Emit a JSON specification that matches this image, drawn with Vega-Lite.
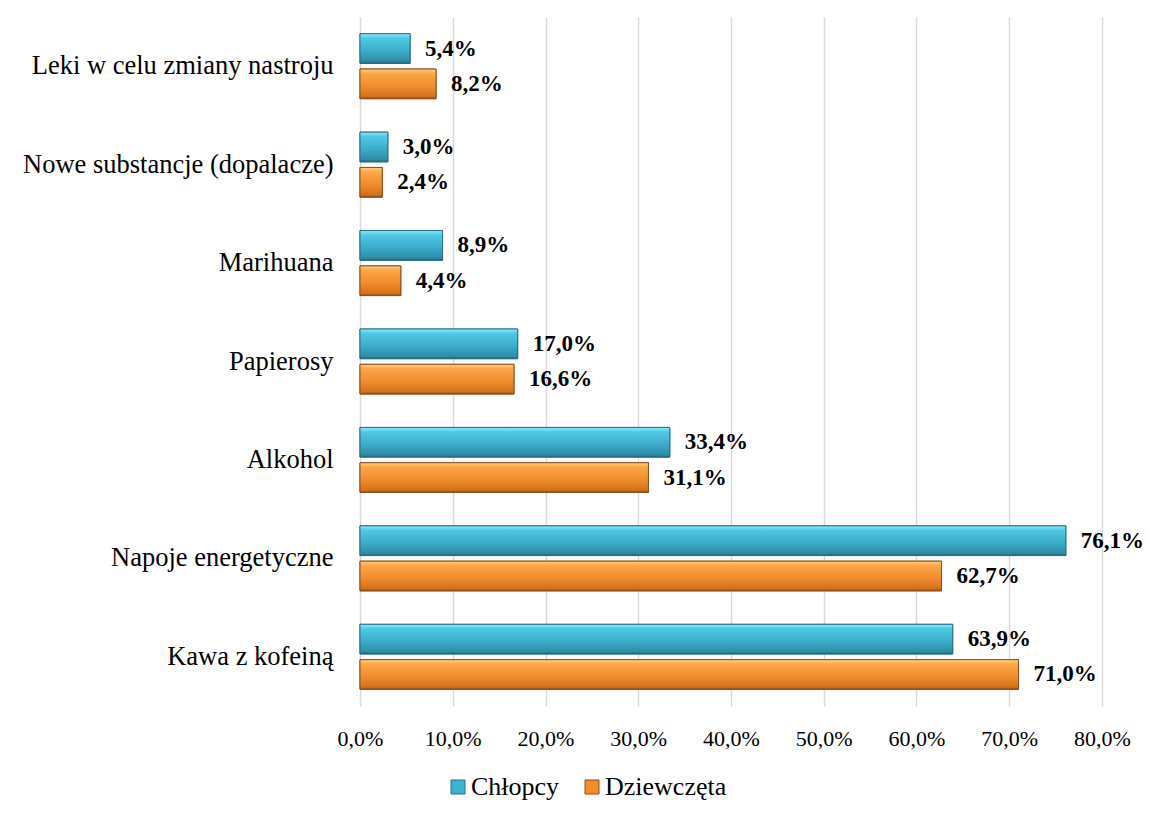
{
  "$schema": "https://vega.github.io/schema/vega-lite/v6.json",
  "autosize": {"type": "none"},
  "padding": {"left": 360, "top": 17, "right": 48, "bottom": 114},
  "width": 742,
  "height": 689,
  "background": "white",
  "config": {
    "view": {"stroke": null},
    "font": "Liberation Serif",
    "locale": {"number": {"decimal": ",", "thousands": " ", "grouping": [3], "currency": ["", " zł"]}}
  },
  "data": {
    "values": [
      {"kat": "Leki w celu zmiany nastroju", "plec": "Chłopcy", "v": 0.054},
      {"kat": "Leki w celu zmiany nastroju", "plec": "Dziewczęta", "v": 0.082},
      {"kat": "Nowe substancje (dopalacze)", "plec": "Chłopcy", "v": 0.030},
      {"kat": "Nowe substancje (dopalacze)", "plec": "Dziewczęta", "v": 0.024},
      {"kat": "Marihuana", "plec": "Chłopcy", "v": 0.089},
      {"kat": "Marihuana", "plec": "Dziewczęta", "v": 0.044},
      {"kat": "Papierosy", "plec": "Chłopcy", "v": 0.170},
      {"kat": "Papierosy", "plec": "Dziewczęta", "v": 0.166},
      {"kat": "Alkohol", "plec": "Chłopcy", "v": 0.334},
      {"kat": "Alkohol", "plec": "Dziewczęta", "v": 0.311},
      {"kat": "Napoje energetyczne", "plec": "Chłopcy", "v": 0.761},
      {"kat": "Napoje energetyczne", "plec": "Dziewczęta", "v": 0.627},
      {"kat": "Kawa z kofeiną", "plec": "Chłopcy", "v": 0.639},
      {"kat": "Kawa z kofeiną", "plec": "Dziewczęta", "v": 0.710}
    ]
  },
  "encoding": {
    "y": {
      "field": "kat", "type": "nominal", "sort": null,
      "scale": {"paddingInner": 0.34, "paddingOuter": 0.17},
      "axis": {"title": null, "domain": false, "ticks": false, "labelPadding": 27, "labelFontSize": 26.5, "labelLimit": 400, "labelColor": "#000000", "labelFont": "Liberation Serif"}
    },
    "yOffset": {"field": "plec", "type": "nominal", "sort": ["Chłopcy", "Dziewczęta"], "scale": {"paddingInner": 0.16}},
    "x": {
      "field": "v", "type": "quantitative",
      "scale": {"domain": [0, 0.8], "nice": false},
      "axis": {"title": null, "format": ".1%", "values": [0, 0.1, 0.2, 0.3, 0.4, 0.5, 0.6, 0.7, 0.8], "labelOverlap": false, "labelFlush": false, "domain": false, "ticks": false, "grid": true, "gridColor": "#D9D9D9", "gridWidth": 1.5, "labelPadding": 22, "labelFontSize": 22, "labelColor": "#000000", "labelFont": "Liberation Serif"}
    }
  },
  "layer": [
    {
      "mark": {"type": "bar", "strokeWidth": 1},
      "encoding": {
        "color": {
          "field": "plec", "type": "nominal", "sort": ["Chłopcy", "Dziewczęta"],
          "scale": {
            "domain": ["Chłopcy", "Dziewczęta"],
            "range": ["#3DB2D1", "#F28C2C"]
          },
          "legend": {
            "title": null, "orient": "none", "direction": "horizontal",
            "legendX": 85, "legendY": 757,
            "symbolType": "square", "symbolSize": 196, "symbolStrokeWidth": 1,
            "labelFontSize": 26, "labelFont": "Liberation Serif", "labelColor": "#000000",
            "labelOffset": 0, "columnPadding": 19, "symbolOpacity": 1, "labelLimit": 300
          }
        },
        "stroke": {
          "field": "plec", "type": "nominal",
          "scale": {"domain": ["Chłopcy", "Dziewczęta"], "range": ["#2A6F82", "#8A5020"]},
          "legend": null
        }
      }
    },
    {
      "transform": [{"filter": "datum.plec == 'Chłopcy'"}],
      "mark": {"type": "bar", "strokeWidth": 1, "stroke": "#2A6F82",
        "fill": {"gradient": "linear", "x1": 0, "y1": 0, "x2": 0, "y2": 1, "stops": [
          {"offset": 0, "color": "#8AEEFF"},
          {"offset": 0.15, "color": "#50C8E4"},
          {"offset": 0.6, "color": "#3AAAC8"},
          {"offset": 0.93, "color": "#2E8BA4"},
          {"offset": 1, "color": "#1F5F70"}
        ]}
      }
    },
    {
      "transform": [{"filter": "datum.plec == 'Dziewczęta'"}],
      "mark": {"type": "bar", "strokeWidth": 1, "stroke": "#8A5020",
        "fill": {"gradient": "linear", "x1": 0, "y1": 0, "x2": 0, "y2": 1, "stops": [
          {"offset": 0, "color": "#FFD27A"},
          {"offset": 0.15, "color": "#FBA648"},
          {"offset": 0.6, "color": "#F08B2C"},
          {"offset": 0.93, "color": "#D2701C"},
          {"offset": 1, "color": "#8A4A16"}
        ]}
      }
    },
    {
      "mark": {"type": "text", "align": "left", "baseline": "middle", "dx": 15, "fontSize": 23, "fontWeight": "bold", "font": "Liberation Serif", "color": "#000000"},
      "encoding": {"text": {"field": "v", "type": "quantitative", "format": ".1%"}}
    }
  ]
}
